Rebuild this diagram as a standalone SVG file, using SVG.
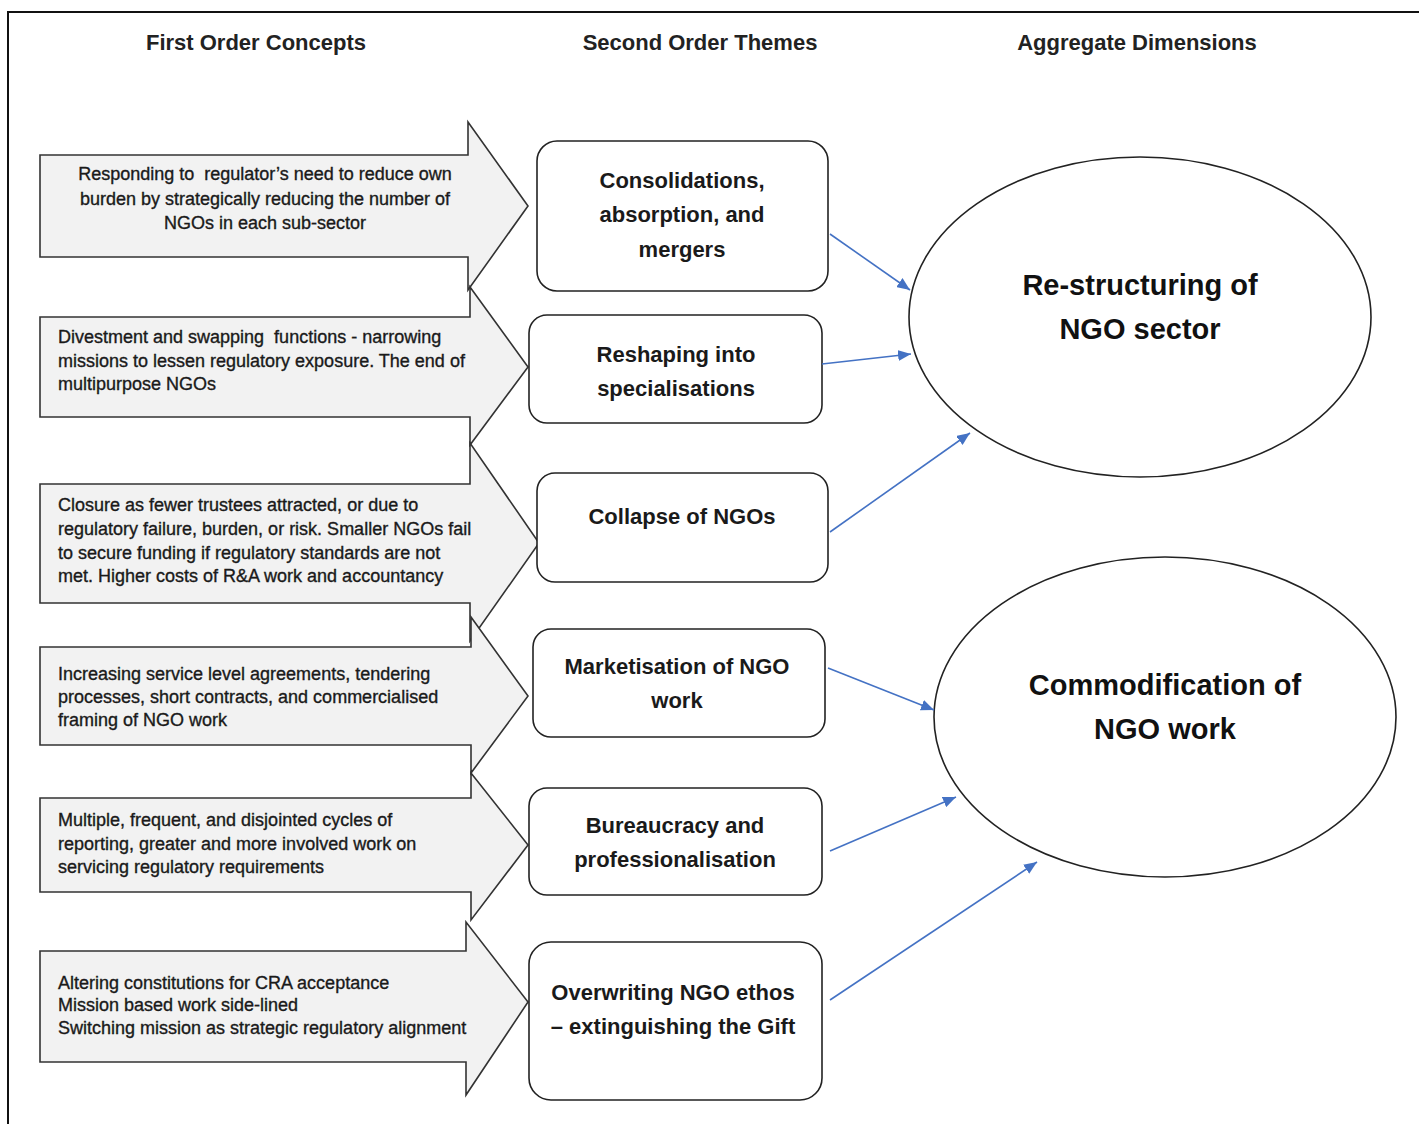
<svg xmlns="http://www.w3.org/2000/svg" width="1419" height="1124" viewBox="0 0 1419 1124">
<defs>
<style>
.hdr{font-family:"Liberation Sans",Arial,sans-serif;font-weight:bold;font-size:22px;fill:#222;text-anchor:middle}
.arrow{fill:#f2f2f2;stroke:#333;stroke-width:1.6;stroke-linejoin:miter}
.atxt{font-family:"Liberation Sans",Arial,sans-serif;font-size:18px;fill:#1a1a1a;stroke:#1a1a1a;stroke-width:0.35;white-space:pre}
.box{fill:#fff;stroke:#222;stroke-width:1.6}
.btxt{font-family:"Liberation Sans",Arial,sans-serif;font-weight:bold;font-size:22px;fill:#1a1a1a;text-anchor:middle}
.ell{fill:#fff;stroke:#222;stroke-width:1.6}
.etxt{font-family:"Liberation Sans",Arial,sans-serif;font-weight:bold;font-size:29px;fill:#111;text-anchor:middle}
.conn{stroke:#4472C4;stroke-width:1.6;fill:none;marker-end:url(#ah)}
</style>
<marker id="ah" markerUnits="userSpaceOnUse" markerWidth="13" markerHeight="11" refX="13" refY="5.5" orient="auto">
<path d="M0,0 L13,5.5 L0,11 z" fill="#4472C4"/>
</marker>
</defs>
<rect x="0" y="0" width="1419" height="1124" fill="#fff"/>
<path d="M8,1124 V12 H1419" fill="none" stroke="#111" stroke-width="2"/>
<g id="headers">
<text class="hdr" x="256" y="50">First Order Concepts</text>
<text class="hdr" x="700" y="50">Second Order Themes</text>
<text class="hdr" x="1137" y="50">Aggregate Dimensions</text>
</g>
<g id="concept1">
<polygon class="arrow" points="40,155 468,155 468,122 528,206 468,290 468,257 40,257"/>
<text class="atxt" text-anchor="middle"><tspan x="265" y="180">Responding to  regulator’s need to reduce own</tspan><tspan x="265" y="205">burden by strategically reducing the number of</tspan><tspan x="265" y="229">NGOs in each sub-sector</tspan></text>
</g>
<g id="concept2">
<polygon class="arrow" points="40,317 470,317 470,287 528,367 470,445 470,417 40,417"/>
<text class="atxt"><tspan x="58" y="343">Divestment and swapping  functions - narrowing</tspan><tspan x="58" y="367">missions to lessen regulatory exposure. The end of</tspan><tspan x="58" y="390">multipurpose NGOs</tspan></text>
</g>
<g id="concept3">
<polygon class="arrow" points="40,484 470,484 470,443 539,543 470,641 470,603 40,603"/>
<text class="atxt"><tspan x="58" y="511">Closure as fewer trustees attracted, or due to</tspan><tspan x="58" y="535">regulatory failure, burden, or risk. Smaller NGOs fail</tspan><tspan x="58" y="559">to secure funding if regulatory standards are not</tspan><tspan x="58" y="582">met. Higher costs of R&amp;A work and accountancy</tspan></text>
</g>
<g id="concept4">
<polygon class="arrow" points="40,647 471,647 471,617 528,696 471,773 471,745 40,745"/>
<text class="atxt"><tspan x="58" y="680">Increasing service level agreements, tendering</tspan><tspan x="58" y="703">processes, short contracts, and commercialised</tspan><tspan x="58" y="726">framing of NGO work</tspan></text>
</g>
<g id="concept5">
<polygon class="arrow" points="40,798 471,798 471,773 528,845 471,920 471,892 40,892"/>
<text class="atxt"><tspan x="58" y="826">Multiple, frequent, and disjointed cycles of</tspan><tspan x="58" y="850">reporting, greater and more involved work on</tspan><tspan x="58" y="873">servicing regulatory requirements</tspan></text>
</g>
<g id="concept6">
<polygon class="arrow" points="40,951 466,951 466,922 528,1002 466,1095 466,1062 40,1062"/>
<text class="atxt"><tspan x="58" y="989">Altering constitutions for CRA acceptance</tspan><tspan x="58" y="1011">Mission based work side-lined</tspan><tspan x="58" y="1034">Switching mission as strategic regulatory alignment</tspan></text>
</g>
<g id="theme1">
<rect class="box" x="537" y="141" width="291" height="150" rx="20"/>
<text class="btxt"><tspan x="682" y="188">Consolidations,</tspan><tspan x="682" y="222">absorption, and</tspan><tspan x="682" y="257">mergers</tspan></text>
</g>
<g id="theme2">
<rect class="box" x="529" y="315" width="293" height="108" rx="18"/>
<text class="btxt"><tspan x="676" y="362">Reshaping into</tspan><tspan x="676" y="396">specialisations</tspan></text>
</g>
<g id="theme3">
<rect class="box" x="537" y="473" width="291" height="109" rx="18"/>
<text class="btxt"><tspan x="682" y="524">Collapse of NGOs</tspan></text>
</g>
<g id="theme4">
<rect class="box" x="533" y="629" width="292" height="108" rx="18"/>
<text class="btxt"><tspan x="677" y="674">Marketisation of NGO</tspan><tspan x="677" y="708">work</tspan></text>
</g>
<g id="theme5">
<rect class="box" x="529" y="788" width="293" height="107" rx="18"/>
<text class="btxt"><tspan x="675" y="833">Bureaucracy and</tspan><tspan x="675" y="867">professionalisation</tspan></text>
</g>
<g id="theme6">
<rect class="box" x="529" y="942" width="293" height="158" rx="22"/>
<text class="btxt"><tspan x="673" y="1000">Overwriting NGO ethos</tspan><tspan x="673" y="1034">– extinguishing the Gift</tspan></text>
</g>
<g id="dim1">
<ellipse class="ell" cx="1140" cy="317" rx="231" ry="160"/>
<text class="etxt"><tspan x="1140" y="295">Re-structuring of</tspan><tspan x="1140" y="339">NGO sector</tspan></text>
</g>
<g id="dim2">
<ellipse class="ell" cx="1165" cy="717" rx="231" ry="160"/>
<text class="etxt"><tspan x="1165" y="695">Commodification of</tspan><tspan x="1165" y="739">NGO work</tspan></text>
</g>
<g id="connectors">
<line class="conn" x1="830" y1="234" x2="910" y2="290"/>
<line class="conn" x1="822" y1="364" x2="911" y2="354"/>
<line class="conn" x1="830" y1="532" x2="970" y2="433"/>
<line class="conn" x1="828" y1="668" x2="934" y2="710"/>
<line class="conn" x1="830" y1="851" x2="956" y2="797"/>
<line class="conn" x1="830" y1="1000" x2="1037" y2="862"/>
</g>
</svg>
